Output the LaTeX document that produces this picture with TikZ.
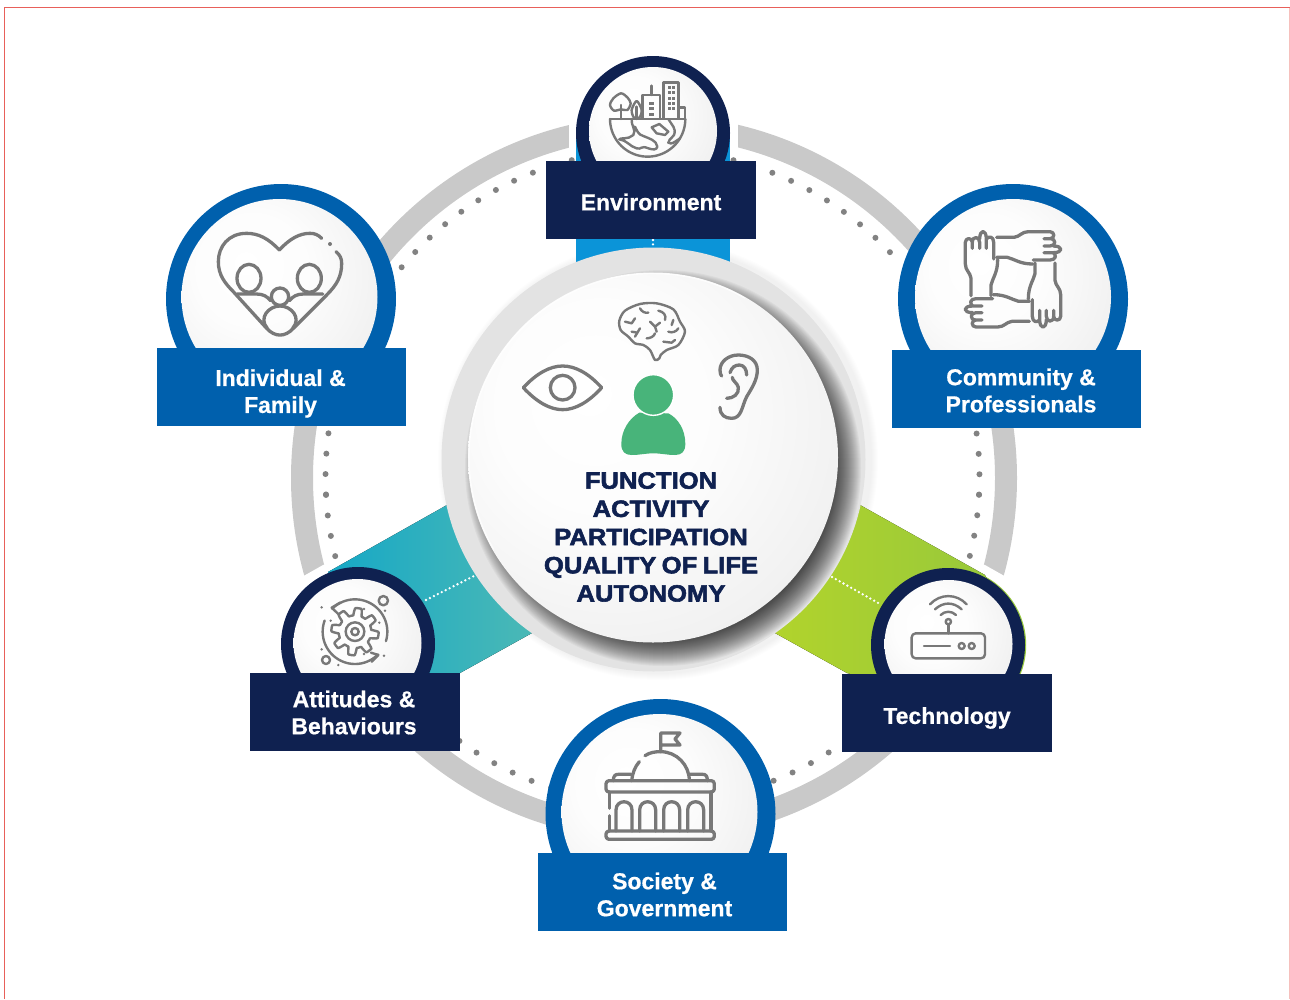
\documentclass[tikz,border=0pt]{standalone}
\usepackage{fontspec}
\setmainfont{Liberation Sans}
\newfontface\heavyfont{Liberation Sans Bold}[FakeBold=2.4, FakeStretch=1.09, WordSpace=0.75]
\newfontface\labelfont{Liberation Sans Bold}[FakeBold=0.6]
\usetikzlibrary{calc}
\definecolor{navy}{HTML}{0F2150}
\definecolor{royal}{HTML}{0060AD}
\definecolor{sky}{HTML}{0B94D8}
\definecolor{ringgray}{HTML}{C9C9C9}
\definecolor{dotgray}{HTML}{828282}
\definecolor{icongray}{HTML}{787878}
\definecolor{persongreen}{HTML}{48B47A}
\definecolor{borderred}{HTML}{E8605A}
\definecolor{tealleft}{HTML}{16A8C6}
\definecolor{tealright}{HTML}{5CBEB0}
\definecolor{limeleft}{HTML}{B8D628}
\definecolor{limeright}{HTML}{96C83C}
\pgfdeclareradialshading{ballshade}{\pgfpoint{-9bp}{9bp}}{color(0bp)=(white); color(15bp)=(white!99!black); color(33bp)=(white!94!black); color(50bp)=(white!87!black); color(60bp)=(white!80!black); color(61.5bp)=(white!76!black); color(63bp)=(white!50!black)}
\tikzstyle{labelbox}=[inner sep=0pt, text=white, align=center, font=\labelfont\fontsize{23}{27}\selectfont]
\tikzstyle{icon}=[draw=icongray, line width=3.3pt, line cap=round, line join=round]
\tikzstyle{thinicon}=[draw=icongray, line width=2.4pt, line cap=round, line join=round]
\tikzstyle{whitedots}=[white, line width=2.6pt, line cap=round, dash pattern=on 0pt off 4.4pt]
\newcommand{\roundBadge}[5]{
	\fill[#1] #2 circle[radius=#3];
	\shade[shading=ballshade] #4 circle[radius=#5];
}

\begin{document}
\begin{tikzpicture}[x=1pt,y=-1pt]
	\useasboundingbox (0,0) rectangle (1290,999);
	\draw[borderred, line width=1.4pt] (4.5,999) -- (4.5,7.5) -- (1290,7.5);
	\draw[borderred!40!white, line width=1pt] (1289,7.5) -- (1289,999);

	\draw[ringgray, line width=22pt] (654,478) circle[radius=352];
	\fill[white] (569,100) rectangle (738,200);
	\fill[white] (654,478) -- (323,565) -- (270,595) -- (270,720) -- (440,720) -- cycle;
	\fill[white] (654,478) -- (985,565) -- (1038,595) -- (1038,720) -- (868,720) -- cycle;
	\foreach \a in {0,...,48}
		\fill[dotgray] ($(652.5,477)+(3.1+3.62*\a:327)$) circle[radius=3];
	\foreach \a in {0,...,11,13,14,...,52}
		\fill[dotgray] ($(652.5,477)+(3.1-3.58*\a:327)$) circle[radius=3];

	\foreach \r in {214,215,...,220}
		\fill[black, opacity=0.008] (658,460) circle[radius=\r];
	\fill[sky] (576,132) rectangle (730,262);
	\fill[left color=tealleft, right color=tealright] (447,505) -- (328,572) -- (358,680) -- (460,673) -- (532,633) -- (600,500) -- cycle;
	\fill[limeright] (948.5,645) circle[radius=77.7];
	\fill[left color=limeleft, right color=limeright] (860,505) -- (985,575) -- (1005,620) -- (948,700) -- (847,673) -- (775,633) -- (720,500) -- cycle;

	\coordinate (tealA) at (426,600);
	\coordinate (tealB) at (476,575);
	\coordinate (limeA) at (832,577);
	\coordinate (limeB) at (880,604);
	\coordinate (skyA) at (653,240);
	\coordinate (skyB) at (653,247);
	\draw[whitedots] (tealA) -- (tealB);
	\draw[whitedots] (limeA) -- (limeB);
	\draw[whitedots] (skyA) -- (skyB);

	\fill[white!89!black] (653.5,459.5) circle[radius=212];
	\begin{scope}
		\clip (653.5,459.5) circle[radius=212];
		\foreach \r in {198,197,...,170}
			\fill[black, opacity=0.036] (663,468) circle[radius=\r];
	\end{scope}
	\shade[shading=ballshade] (653,457.5) circle[radius=185];
	\draw[white, line width=1.2pt, opacity=.8] plot[domain=150:300,samples=40] ({653+184*cos(\x)},{457.5+184*sin(\x)});

	\roundBadge{navy}{(653,133)}{77}{(653,131)}{64}
	\roundBadge{royal}{(281,299)}{115}{(279.5,297)}{98}
	\roundBadge{royal}{(1013,299)}{115}{(1013,297)}{98}
	\roundBadge{royal}{(660.5,814)}{115}{(659.5,812)}{98}
	\roundBadge{navy}{(358,644)}{77}{(357.5,643)}{64}
	\roundBadge{navy}{(948,645)}{77}{(948.5,644)}{64}

	\fill[navy] (546,161) rectangle (756,239);
	\fill[royal] (157,348) rectangle (406,426);
	\fill[royal] (892,350) rectangle (1141,428);
	\fill[royal] (538,853) rectangle (787,931);
	\fill[navy] (250,673) rectangle (460,751);
	\fill[navy] (842,674) rectangle (1052,752);

	\node[labelbox] (environment) at (651,202) {Environment};
	\node[labelbox] (individual) at (280.5,393.5) {Individual \&\\Family};
	\node[labelbox] (community) at (1021,390.5) {Community \&\\Professionals};
	\node[labelbox] (society) at (664.5,894.5) {Society \&\\Government};
	\node[labelbox] (attitudes) at (354,712.5) {Attitudes \&\\Behaviours};
	\node[labelbox] (technology) at (947,718) {Technology};
	\node[inner sep=0pt, text=navy, align=center, font=\heavyfont\fontsize{23.5}{28.2}\selectfont] (outcomes) at (651,537) {FUNCTION\\ACTIVITY\\PARTICIPATION\\QUALITY OF LIFE\\AUTONOMY};

	\begin{scope}[shift={(500,290)},scale=1/3]
		\fill[persongreen] (418,368) -- (505,370) .. controls (535,385) and (556,420) .. (556,462) .. controls (556,485) and (545,495) .. (525,495) .. controls (500,495) and (485,490) .. (460,490) .. controls (435,490) and (420,495) .. (395,495) .. controls (375,495) and (364,485) .. (364,462) .. controls (364,420) and (388,385) .. (418,368) -- cycle;
		\fill[persongreen, draw=white, line width=1.4pt] (460,315) circle[radius=61];
		\draw[icon] (70,293) .. controls (110,250) and (150,228) .. (188,228) .. controls (226,228) and (266,250) .. (305,293) .. controls (266,336) and (226,359) .. (188,359) .. controls (150,359) and (110,336) .. (70,293) -- cycle;
		\draw[icon] (188,293) circle[radius=37];
		\draw[icon] (660,352) .. controls (660,375) and (675,385) .. (695,385) .. controls (725,385) and (725,350) .. (740,320) .. controls (755,295) and (772,270) .. (772,240) .. controls (772,210) and (745,195) .. (715,195) .. controls (685,195) and (660,215) .. (660,240) .. controls (660,250) and (662,255) .. (665,258);
		\draw[icon] (690,248) .. controls (695,232) and (705,225) .. (718,225) .. controls (732,225) and (740,238) .. (740,255);
		\draw[icon] (680,325) .. controls (700,325) and (718,312) .. (715,292) .. controls (713,280) and (695,270) .. (697,262);
		\draw[thinicon] plot[smooth cycle] coordinates {(465,210) (450,180) (430,165) (405,160) (385,140) (362,120) (358,92) (375,62) (420,42) (470,40) (520,58) (540,95) (555,125) (535,165) (500,180) (482,195) (478,205)};
		\draw[thinicon] (375,95) -- (395,100) -- (405,85);
		\draw[thinicon] (420,55) .. controls (425,65) and (435,70) .. (445,68);
		\draw[thinicon] (475,62) .. controls (490,65) and (500,75) .. (495,90);
		\draw[thinicon] (450,95) -- (465,110) -- (480,98);
		\draw[thinicon] (465,110) -- (470,125);
		\draw[thinicon] (395,125) -- (412,128) -- (420,115);
		\draw[thinicon] (412,128) -- (405,140);
		\draw[thinicon] (440,145) .. controls (450,145) and (462,140) .. (465,130);
		\draw[thinicon] (505,125) .. controls (515,130) and (530,125) .. (535,115);
		\draw[thinicon] (490,155) -- (515,158) -- (525,150);
		\draw[thinicon] (520,90) -- (515,105);
	\end{scope}

	\begin{scope}[shift={(520,50)},scale=1/3]
		\draw[thinicon] (270,207) -- (495,207);
		\draw[thinicon] plot[domain=0:180,samples=40] ({383+113*cos(\x)},{207+113*sin(\x)});
		\draw[thinicon] (335,207) .. controls (332,225) and (350,240) .. (340,255) .. controls (325,270) and (300,262) .. (298,268) .. controls (320,270) and (330,290) .. (350,295) .. controls (365,300) and (362,285) .. (385,295) .. controls (400,300) and (410,300) .. (412,290) .. controls (410,270) and (385,265) .. (370,258) .. controls (355,255) and (350,240) .. (345,230);
		\draw[thinicon] (395,232) -- (418,222) -- (445,245) -- (435,255) -- (410,250) -- cycle;
		\draw[thinicon] (445,207) .. controls (455,225) and (470,235) .. (462,255) .. controls (450,270) and (445,270) .. (445,278) .. controls (455,285) and (465,275) .. (480,265);
		\draw[thinicon] (430,207) rectangle (475,97);
		\draw[thinicon] (368,207) rectangle (420,135);
		\draw[thinicon] (394,135) -- (394,107);
		\draw[thinicon] (475,172) rectangle (495,207);
		\foreach \wx in {443,456}
			\foreach \wy in {108,124,140,156,172}
				\fill[icongray] (\wx,\wy) rectangle ++(9,9);
		\foreach \wy in {155,172,189}
			\fill[icongray] (386,\wy) rectangle ++(16,9);
		\draw[thinicon] (303,207) -- (303,165);
		\draw[thinicon] plot[smooth cycle] coordinates {(303,130) (322,142) (332,160) (322,180) (303,178) (282,182) (270,165) (280,145)};
		\draw[thinicon] (350,207) -- (350,170);
		\draw[thinicon] plot[smooth cycle] coordinates {(350,153) (365,180) (358,203) (342,203) (335,180)};
	\end{scope}

	\begin{scope}[shift={(150,180)},scale=1/3]
		\draw[icon] (388,210) .. controls (355,175) and (325,160) .. (290,160) .. controls (235,160) and (205,200) .. (205,245) .. controls (205,285) and (225,310) .. (250,335) -- (350,445) .. controls (375,472) and (405,472) .. (430,445) -- (530,345) .. controls (560,315) and (575,290) .. (575,250) .. controls (575,235) and (570,225) .. (558,215);
		\draw[icon] (388,210) .. controls (420,175) and (450,160) .. (480,160) .. controls (495,160) and (505,165) .. (515,175);
		\fill[icongray] (540,192) circle[radius=6];
		\draw[icon] (297,295) ellipse[x radius=36, y radius=42];
		\draw[icon] (478,295) ellipse[x radius=36, y radius=42];
		\draw[icon] (262,342) -- (320,342) .. controls (340,342) and (352,350) .. (362,362);
		\draw[icon] (518,342) -- (460,342) .. controls (440,342) and (428,350) .. (418,362);
		\draw[icon] (390,350) circle[radius=26];
		\draw[icon] (352,445) .. controls (325,415) and (355,378) .. (390,378) .. controls (425,378) and (455,415) .. (428,445);
	\end{scope}

	\begin{scope}[shift={(890,180)},scale=1/3]
		\foreach \a in {0,90,180,270}
			\draw[icon, rotate around={\a:(369,298)}] (320,172) -- (372,172) .. controls (390,170) and (395,155) .. (415,155) -- (480,155) .. controls (495,155) and (495,176) .. (480,176) -- (462,176) (480,176) .. controls (500,176) and (498,198) .. (480,198) -- (462,198) (490,198) .. controls (520,198) and (520,218) .. (490,218) -- (462,218) (490,218) .. controls (500,225) and (498,240) .. (480,240) -- (430,240) (428,252) .. controls (390,252) and (375,238) .. (352,232) -- (320,232);
	\end{scope}

	\begin{scope}[shift={(240,490)},scale=1/3]
		\begin{scope}[shift={(345,425)}]
			\draw[thinicon] plot[domain=0:360,samples=181] (\x:{60+11*max(-1,min(1,2.2*sin(8*\x+22)))}) -- cycle;
			\draw[thinicon] (0,0) circle[radius=28];
			\draw[thinicon] (0,0) circle[radius=11];
			\draw[thinicon] plot[domain=17:-135,samples=40] (\x:97);
			\draw[thinicon] plot[domain=200:45,samples=40] (\x:97);
		\end{scope}
		\draw[thinicon] (300,338) -- (275,353) -- (295,372);
		\draw[thinicon] (393,488) -- (415,495) -- (395,515);
		\draw[thinicon] (430,332) circle[radius=14];
		\draw[thinicon] (258,510) circle[radius=12];
		\foreach \px/\py in {245/352,435/362,245/478,432/497,295/525,272/392,372/357,372/492,418/398}
			\fill[icongray] (\px,\py) circle[radius=4];
	\end{scope}

	\begin{scope}[shift={(770,490)},scale=1/3]
		\draw[thinicon, rounded corners=4pt] (425,430) rectangle (645,505);
		\draw[thinicon] (462,468) -- (540,468);
		\draw[thinicon] (575,468) circle[radius=9];
		\draw[thinicon] (605,468) circle[radius=9];
		\draw[thinicon] (535,395) circle[radius=8];
		\draw[thinicon] (535,403) -- (535,430);
		\draw[thinicon] (480,343) .. controls (510,310) and (560,310) .. (590,343);
		\draw[thinicon] (495,358) .. controls (520,335) and (550,335) .. (575,358);
		\draw[thinicon] (512,375) .. controls (525,362) and (545,362) .. (558,375);
	\end{scope}

	\begin{scope}[shift={(530,695)},scale=1/3]
		\draw[icon, rounded corners=3pt] (228,408) rectangle (553,433);
		\draw[icon, rounded corners=3pt] (228,257) rectangle (553,291);
		\draw[icon] (238,291) -- (238,340);
		\draw[icon] (238,362) -- (238,408);
		\draw[icon] (543,291) -- (543,408);
		\foreach \ax in {282,353,425,497}
			\draw[icon] (\ax-24,408) -- (\ax-24,345) .. controls (\ax-24,312) and (\ax+24,312) .. (\ax+24,345) -- (\ax+24,408);
		\draw[icon] (305,257) .. controls (307,235) and (315,215) .. (328,200);
		\draw[icon] (345,182) .. controls (360,172) and (375,170) .. (392,170) .. controls (440,170) and (478,210) .. (478,257);
		\draw[icon] (392,170) -- (392,114) -- (450,114) -- (435,132) -- (450,150) -- (392,150);
		\draw[icon] (250,257) .. controls (250,243) and (255,238) .. (265,238) -- (303,238);
		\draw[icon] (480,238) -- (518,238) .. controls (528,238) and (532,243) .. (532,257);
	\end{scope}
\end{tikzpicture}
\end{document}
